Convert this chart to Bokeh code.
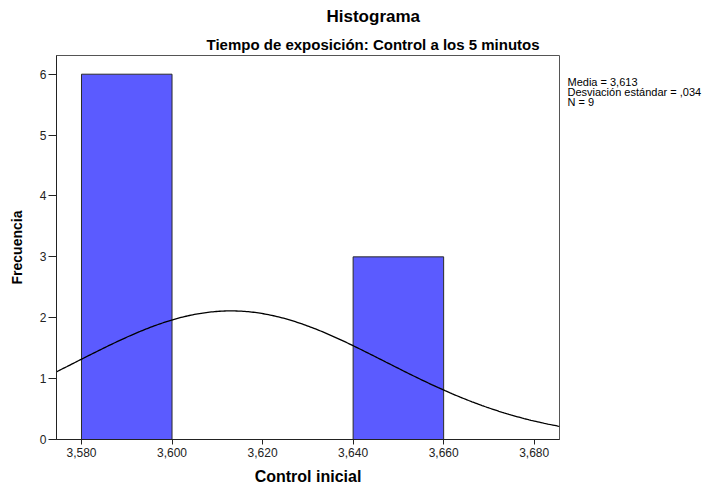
import numpy as np
from bokeh.plotting import figure
from bokeh.layouts import row
from bokeh.models import Label, FixedTicker, CustomJSTickFormatter, Range1d, Title
from bokeh.embed import file_html
from bokeh.resources import INLINE

# ---- data ----
bin_left = [3.580, 3.600, 3.620, 3.640]
bin_right = [3.600, 3.620, 3.640, 3.660]
counts = [6, 0, 0, 3]
mean = 3.613
std = 0.034
n = 9
bin_width = 0.02
x_ticks = [3.58, 3.60, 3.62, 3.64, 3.66, 3.68]
y_ticks = [0, 1, 2, 3, 4, 5, 6]
title_text = "Histograma"
subtitle_text = "Tiempo de exposición: Control a los 5 minutos"
x_label = "Control inicial"
y_label = "Frecuencia"
stats_lines = ["Media = 3,613", "Desviación estándar = ,034", "N = 9"]

FONT = "Liberation Sans"

x0, x1 = 3.57448, 3.68559
y0, y1 = 0.0, 6.307

p = figure(frame_width=503, frame_height=384,
           min_border_left=56, min_border_right=4,
           min_border_top=55, min_border_bottom=47,
           x_range=Range1d(x0, x1), y_range=Range1d(y0, y1),
           output_backend="svg", toolbar_location=None)
p.background_fill_color = "white"
p.border_fill_color = "white"
p.outline_line_color = "#555555"
p.outline_line_width = 1
p.xgrid.visible = False
p.ygrid.visible = False

# titles (main title outermost, subtitle next to the frame)
p.title.text = title_text
p.title.text_font = FONT
p.title.text_font_size = "17px"
p.title.text_font_style = "bold"
p.title.text_color = "black"
p.title.align = "left"
p.title.offset = 270
p.title.standoff = 9
p.add_layout(Title(text=subtitle_text, text_font=FONT, text_font_size="15px",
                   text_font_style="bold", text_color="black",
                   align="left", offset=150, standoff=6), "above")

# bars
bl, br, bc = [], [], []
for l, r, c in zip(bin_left, bin_right, counts):
    if c > 0:
        bl.append(l); br.append(r); bc.append(c)
p.quad(left=bl, right=br, bottom=0, top=bc,
       fill_color="#5b5bff", line_color="#2a2a2a", line_width=1)

# normal curve
xs = np.linspace(x0, x1, 300)
ys = n * bin_width * np.exp(-0.5 * ((xs - mean) / std) ** 2) / (std * np.sqrt(2 * np.pi))
p.line(xs, ys, line_color="black", line_width=1.3)

# axes
for ax in (p.xaxis[0], p.yaxis[0]):
    ax.major_tick_in = 0
    ax.minor_tick_line_color = None
    ax.axis_line_color = "#222222"
    ax.major_tick_line_color = "#222222"
    ax.major_label_text_font = FONT
    ax.major_label_text_font_size = "12px"
    ax.major_label_text_color = "#222222"
    ax.axis_label_text_font = FONT
    ax.axis_label_text_font_style = "bold"
    ax.axis_label_text_color = "black"

p.xaxis[0].ticker = FixedTicker(ticks=x_ticks)
p.xaxis[0].formatter = CustomJSTickFormatter(code="return tick.toFixed(3).replace('.', ',');")
p.xaxis[0].major_tick_out = 5
p.xaxis[0].major_label_standoff = 3
p.xaxis[0].axis_label = x_label
p.xaxis[0].axis_label_text_font_size = "16px"
p.xaxis[0].axis_label_standoff = 8

p.yaxis[0].ticker = FixedTicker(ticks=y_ticks)
p.yaxis[0].major_tick_out = 8
p.yaxis[0].major_label_standoff = 2
p.yaxis[0].axis_label = y_label
p.yaxis[0].axis_label_text_font_size = "14px"
p.yaxis[0].axis_label_standoff = 12

# side panel with the statistics text; its frame is aligned with the main
# frame (page y 55..439), so the y range maps data y to page pixels
side_left, side_w, total_h = 563, 165, 486
s = figure(width=side_w, height=total_h, min_border=0,
           x_range=Range1d(side_left, side_left + side_w), y_range=Range1d(439, 55),
           output_backend="svg", toolbar_location=None)
s.axis.visible = False
s.grid.visible = False
s.outline_line_color = None
s.background_fill_color = "white"
s.border_fill_color = "white"
for i, t in enumerate(stats_lines):
    s.add_layout(Label(x=567, y=82 + 10 * i, text=t, text_font=FONT,
                       text_font_size="11px", text_align="left",
                       text_baseline="middle", text_color="black"))

layout = row(p, s)
open("out.html", "w").write(file_html(layout, INLINE))
